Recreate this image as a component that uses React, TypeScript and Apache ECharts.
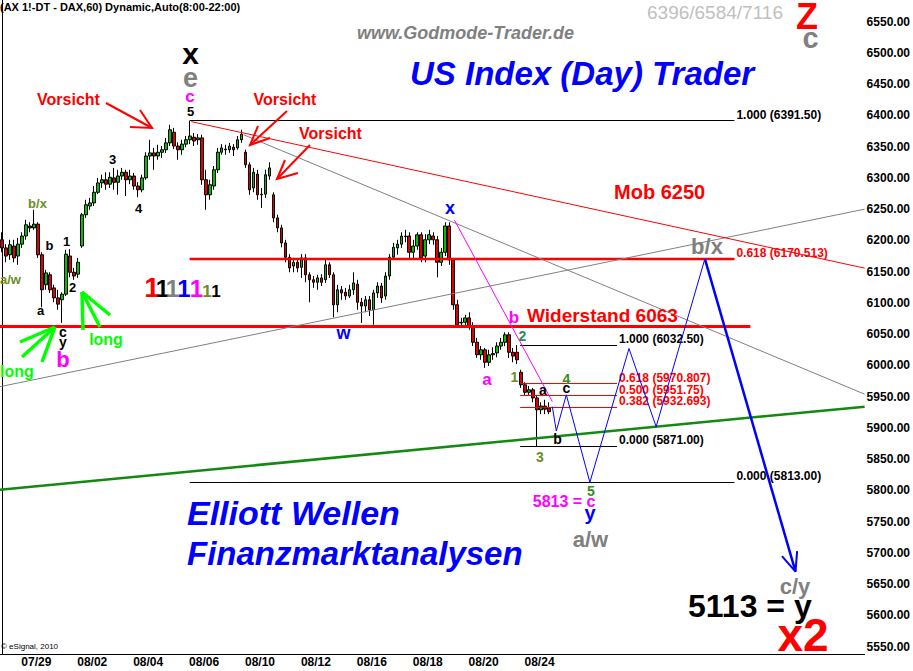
import { useEffect, useRef } from "react";
import * as echarts from "echarts";

const FONT = '"Liberation Sans", Arial, sans-serif';

// ---- axis ticks ----
const DATE_LABELS = ["07/29", "08/02", "08/04", "08/06", "08/10", "08/12", "08/16", "08/18", "08/20", "08/24"];
const DATE_POS = [8.6, 22.6, 36.6, 50.6, 64.6, 78.6, 92.6, 106.6, 120.6, 134.6];
const PRICE_TICKS = [5550, 5600, 5650, 5700, 5750, 5800, 5850, 5900, 5950, 6000, 6050, 6100, 6150, 6200, 6250, 6300, 6350, 6400, 6450, 6500, 6550];
const X_RANGE = [-0.5, 216];
const Y_RANGE = [5538.3, 6584.6];

// ---- hourly candles: open, close, low, high ----
const CANDLES: number[][] = [
  [6201, 6188, 6181, 6213], [6188, 6175, 6165, 6194], [6177, 6193, 6169, 6201], [6191, 6172, 6165, 6201],
  [6175, 6194, 6161, 6204], [6194, 6207, 6188, 6213], [6207, 6225, 6201, 6233], [6223, 6220, 6213, 6229],
  [6220, 6226, 6217, 6249], [6226, 6177, 6172, 6229], [6177, 6121, 6093, 6181], [6129, 6148, 6121, 6153],
  [6145, 6121, 6116, 6149], [6124, 6108, 6101, 6129], [6108, 6098, 6089, 6121], [6105, 6114, 6068, 6117],
  [6114, 6178, 6111, 6185], [6175, 6149, 6141, 6186], [6149, 6143, 6137, 6156], [6146, 6165, 6140, 6172],
  [6191, 6241, 6188, 6244], [6241, 6257, 6236, 6265], [6255, 6260, 6249, 6268], [6260, 6277, 6255, 6287],
  [6277, 6292, 6274, 6300], [6292, 6297, 6284, 6305], [6297, 6290, 6281, 6309], [6290, 6301, 6284, 6309],
  [6300, 6293, 6281, 6316], [6293, 6303, 6273, 6313], [6303, 6309, 6297, 6316], [6309, 6297, 6271, 6313],
  [6297, 6303, 6290, 6313], [6303, 6287, 6281, 6308], [6287, 6281, 6269, 6293], [6281, 6300, 6277, 6305],
  [6300, 6335, 6297, 6341], [6335, 6340, 6329, 6361], [6340, 6335, 6313, 6348], [6335, 6341, 6329, 6353],
  [6341, 6345, 6332, 6351], [6345, 6356, 6340, 6364], [6356, 6377, 6351, 6385], [6373, 6351, 6346, 6380],
  [6351, 6345, 6329, 6357], [6345, 6354, 6337, 6361], [6354, 6361, 6349, 6367], [6361, 6367, 6354, 6391.5],
  [6365, 6359, 6351, 6372], [6361, 6364, 6353, 6370], [6364, 6297, 6289, 6369], [6297, 6273, 6249, 6313],
  [6273, 6289, 6265, 6297], [6287, 6313, 6281, 6319], [6313, 6341, 6308, 6348], [6341, 6348, 6337, 6354],
  [6346, 6345, 6337, 6353], [6345, 6351, 6340, 6356], [6349, 6345, 6335, 6354], [6348, 6361, 6345, 6367],
  [6361, 6370, 6356, 6377], [6341, 6321, 6316, 6345], [6321, 6281, 6273, 6325], [6284, 6309, 6277, 6316],
  [6306, 6273, 6265, 6313], [6273, 6274, 6252, 6284], [6274, 6305, 6268, 6313], [6303, 6316, 6297, 6325],
  [6273, 6236, 6229, 6277], [6236, 6220, 6213, 6241], [6220, 6196, 6189, 6225], [6196, 6173, 6165, 6201],
  [6173, 6156, 6149, 6178], [6159, 6165, 6149, 6172], [6165, 6156, 6149, 6172], [6157, 6172, 6140, 6178],
  [6172, 6145, 6133, 6178], [6145, 6137, 6101, 6149], [6137, 6133, 6124, 6143], [6133, 6140, 6121, 6145],
  [6140, 6133, 6127, 6146], [6137, 6161, 6132, 6169], [6161, 6145, 6140, 6165], [6145, 6097, 6077, 6149],
  [6097, 6121, 6085, 6129], [6121, 6116, 6105, 6127], [6117, 6111, 6105, 6124], [6111, 6121, 6108, 6129],
  [6121, 6132, 6113, 6149], [6130, 6101, 6089, 6137], [6101, 6095, 6068, 6108], [6095, 6105, 6085, 6111],
  [6105, 6089, 6079, 6111], [6089, 6116, 6065, 6121], [6116, 6127, 6108, 6133], [6127, 6108, 6100, 6132],
  [6111, 6143, 6105, 6149], [6143, 6173, 6137, 6178], [6173, 6189, 6169, 6196], [6188, 6194, 6177, 6201],
  [6194, 6207, 6188, 6213], [6207, 6206, 6197, 6217], [6207, 6181, 6172, 6213], [6181, 6191, 6169, 6201],
  [6191, 6209, 6185, 6213], [6209, 6172, 6165, 6213], [6175, 6201, 6165, 6210], [6201, 6209, 6194, 6217],
  [6207, 6201, 6193, 6213], [6201, 6165, 6141, 6207], [6165, 6181, 6159, 6188], [6181, 6223, 6175, 6229],
  [6223, 6169, 6161, 6229], [6169, 6097, 6089, 6172], [6097, 6065, 6060, 6105], [6068, 6069, 6060, 6076],
  [6069, 6076, 6060, 6081], [6076, 6063, 6057, 6085], [6063, 6037, 6031, 6069], [6037, 6017, 6012, 6044],
  [6017, 6025, 6009, 6031], [6025, 6005, 5996, 6028], [6005, 6017, 5999, 6025], [6017, 6019, 6009, 6029],
  [6020, 6031, 6013, 6037], [6031, 6037, 6025, 6044], [6037, 6049, 6031, 6053], [6049, 6021, 6012, 6053],
  [6021, 6015, 6005, 6028], [6021, 6009, 6002, 6032.5], [5989, 5969, 5964, 5993], [5969, 5957, 5951, 5973],
  [5957, 5961, 5951, 5967], [5961, 5948, 5941, 5964], [5948, 5929, 5871, 5951], [5929, 5935, 5922, 5941],
  [5935, 5930, 5922, 5945], [5932, 5926, 5922, 5941],
];
const LAST_PRICE = 5926;

// ---- levels / fibonacci ----
const RESISTANCE = 6063;
const RESISTANCE_SPAN = [-0.5, 187.4];
const FIB1_SPAN = [47, 183.4];
const FIB1_LEVELS = [6391.5, 6170.513, 5813];
const FIB1_LABELS = ["1.000 (6391.50)", "0.618 (6170.513)", "0.000 (5813.00)"];
const FIB2_SPAN = [129.75, 154];
const FIB2_LEVELS = [6032.5, 5970.807, 5951.75, 5932.693, 5871];
const FIB2_LABELS = ["1.000 (6032.50)", "0.618 (5970.807)", "0.500 (5951.75)", "0.382 (5932.693)", "0.000 (5871.00)"];

// ---- trend lines & projection (bar index, price) ----
const TREND_RED = [[47.4, 6390], [216, 6155.6]];
const TREND_GRAY_DOWN = [[60.5, 6369], [216, 5954]];
const TREND_GRAY_UP = [[-0.5, 5966], [216, 6250]];
const TREND_GREEN = [[-0.5, 5801], [216, 5934]];
const MAGENTA_LINE = [[113.25, 6233], [137.8, 5942]];
const PROJ_THIN = [[137.8, 5934], [138.8, 5895], [141.3, 5953], [147.2, 5813], [157, 6027], [163.8, 5902], [176, 6170.5]];
const PROJ_THICK = [[176, 6170.5], [198.7, 5670]];
const PROJ_ARROW = [[195.3, 5695], [198.7, 5670], [199.1, 5703]];

const RED = "#ff0000";
const BLUE = "#0000ff";
const MAG = "#ff00ff";
const GRAY = "#808080";
const OLIVE = "#6b8e23";
const G2 = "#2e8b57";
const G4 = "#3a8a20";
const LIME = "#00ff00";

type TOpt = { italic?: boolean; weight?: string; align?: string };
const T = (text: string, x: number, y: number, color: string, size: number, o: TOpt = {}) => ({
  type: "text",
  x,
  y,
  silent: true,
  z: 100,
  style: {
    text,
    fill: color,
    font: `${o.italic ? "italic " : ""}${o.weight ?? "bold"} ${size}px ${FONT}`,
    align: o.align ?? "center",
    verticalAlign: "middle",
  },
});

const PL = (points: number[][], color: string, width: number) => ({
  type: "polyline",
  silent: true,
  z: 90,
  shape: { points },
  style: { stroke: color, lineWidth: width, fill: null },
});

const lineSeries = (data: number[][], color: string, width: number, z = 5) => ({
  type: "line",
  data,
  symbol: "none",
  showSymbol: false,
  silent: true,
  animation: false,
  z,
  lineStyle: { color, width },
});

export default function App() {
  const ref = useRef<HTMLDivElement>(null);
  useEffect(() => {
    const chart = echarts.init(ref.current!, null, { renderer: "svg" });

    const fibSeg = (span: number[], v: number, label: string, color: string, width: number) => [
      {
        coord: [span[0], v],
        lineStyle: { color, width, type: "solid" },
        label: {
          show: true,
          formatter: label,
          position: "end",
          color: color === RED ? RED : "#000",
          fontWeight: "bold",
          fontSize: 12,
          fontFamily: FONT,
          verticalAlign: "bottom",
          align: "left",
          distance: 2,
        },
      },
      { coord: [span[1], v] },
    ];

    const markData: any[] = [
      [
        { coord: [RESISTANCE_SPAN[0], RESISTANCE], lineStyle: { color: RED, width: 3, type: "solid" }, label: { show: false } },
        { coord: [RESISTANCE_SPAN[1], RESISTANCE] },
      ],
      ...FIB1_LEVELS.map((v, k) => fibSeg(FIB1_SPAN, v, FIB1_LABELS[k], k === 1 ? RED : "#000", k === 1 ? 2.3 : 1)),
      ...FIB2_LEVELS.map((v, k) =>
        fibSeg(FIB2_SPAN, v, FIB2_LABELS[k], k === 0 || k === FIB2_LEVELS.length - 1 ? "#000" : RED, 1)
      ),
      {
        yAxis: LAST_PRICE,
        lineStyle: { opacity: 0 },
        label: {
          show: true,
          position: "end",
          distance: 0,
          formatter: LAST_PRICE.toFixed(2),
          color: "#fff",
          backgroundColor: RED,
          fontWeight: "bold",
          fontSize: 12,
          fontFamily: FONT,
          padding: [1, 2, 1, 1],
          align: "left",
          verticalAlign: "middle",
        },
      },
    ];

    const texts = [
      T("(AX 1!-DT - DAX,60) Dynamic,Auto(8:00-22:00)", 0, 7, "#000", 11, { align: "left" }),
      T("www.Godmode-Trader.de", 465.5, 33, GRAY, 18, { italic: true }),
      T("6396/6584/7116", 647, 12, "#c0c0c0", 19, { align: "left", weight: "normal" }),
      T("Z", 807, 16, RED, 36),
      T("c", 810.5, 38, GRAY, 29),
      T("US Index (Day) Trader", 410, 73, BLUE, 33, { italic: true, align: "left" }),
      T("Elliott Wellen", 187, 513, BLUE, 34, { italic: true, align: "left" }),
      T("Finanzmarktanalysen", 187, 553, BLUE, 33, { italic: true, align: "left" }),
      T("Vorsicht", 68.5, 99, RED, 16),
      T("Vorsicht", 285, 99, RED, 16),
      T("Vorsicht", 330.5, 133.5, RED, 16),
      T("long", 0, 371, LIME, 16, { align: "left" }),
      T("long", 106, 339, LIME, 16),
      T("b/x", 37.5, 203, OLIVE, 13),
      T("a/w", 0, 279, OLIVE, 13, { align: "left" }),
      T("b", 49.5, 245, "#000", 13),
      T("1", 66.5, 241, "#000", 13),
      T("2", 72.5, 287, "#000", 13),
      T("a", 40.5, 310, "#000", 13),
      T("c", 63, 332, "#000", 14),
      T("y", 63, 342, "#000", 14),
      T("b", 63, 359.5, MAG, 22),
      T("3", 112.5, 159.5, "#000", 13),
      T("4", 138.5, 208, "#000", 13),
      T("5", 190.5, 111, "#000", 13),
      T("c", 190, 96, MAG, 17),
      T("e", 190.5, 77.5, GRAY, 27),
      T("x", 190.5, 53, "#000", 30),
      T("1", 152, 287, RED, 28),
      T("1", 162.5, 288.5, "#000", 24),
      T("1", 172.5, 288.5, GRAY, 24),
      T("1", 184, 288.5, BLUE, 24),
      T("1", 196.5, 288.5, MAG, 24),
      T("1", 207, 291, OLIVE, 17),
      T("1", 216, 291, "#000", 17),
      T("w", 343.5, 333, BLUE, 18),
      T("x", 450, 208, BLUE, 18),
      T("b", 514, 317, MAG, 17),
      T("a", 487, 379.5, MAG, 17),
      T("Widerstand 6063", 527, 315, RED, 19, { align: "left" }),
      T("Mob 6250", 614, 192, RED, 20, { align: "left" }),
      T("2", 522.5, 336, G2, 14),
      T("1", 514.5, 377, OLIVE, 14),
      T("4", 566.5, 378.5, G4, 14),
      T("a", 543, 389.5, "#000", 14),
      T("c", 566.5, 387.5, "#000", 14),
      T("b", 557.5, 438.5, "#000", 14),
      T("3", 540, 457, OLIVE, 14),
      T("5", 591, 491, G4, 14),
      T("5813 = c", 595.5, 501, MAG, 16, { align: "right" }),
      T("y", 590, 512.5, BLUE, 20),
      T("a/w", 590.5, 539, GRAY, 22),
      T("b/x", 707, 246, GRAY, 22),
      T("c/y", 795, 586, GRAY, 22),
      T("5113 = y", 688, 605.5, "#000", 32, { align: "left" }),
      T("x2", 803, 634.5, RED, 46),
      T("\u00a9 eSignal, 2010", 1, 646, "#000", 8, { align: "left", weight: "normal" }),
    ];

    const arrows = [
      PL([[106, 103], [152, 128]], RED, 2),
      PL([[130, 127], [152, 128], [140, 110]], RED, 2),
      PL([[287, 111], [250, 145]], RED, 2),
      PL([[258, 126], [250, 145], [270, 138]], RED, 2),
      PL([[310, 145], [277, 179]], RED, 2),
      PL([[285, 160], [277, 179], [298, 173]], RED, 2),
      PL([[20, 342], [55, 327]], LIME, 3.5),
      PL([[22, 357], [55, 327]], LIME, 3.5),
      PL([[42, 362], [55, 327]], LIME, 3.5),
      PL([[83, 330], [82, 292]], LIME, 3.5),
      PL([[100, 327], [82, 292]], LIME, 3.5),
      PL([[110, 315], [82, 292]], LIME, 3.5),
    ];

    chart.setOption({
      animation: false,
      backgroundColor: "#ffffff",
      grid: { left: 0, right: 47, top: 0, bottom: 17, containLabel: false },
      xAxis: {
        type: "value",
        min: X_RANGE[0],
        max: X_RANGE[1],
        splitLine: { show: false },
        axisTick: { show: false },
        axisLine: { show: true, onZero: false, lineStyle: { color: "#000", width: 1 } },
        axisLabel: {
          customValues: DATE_POS,
          color: "#000",
          fontWeight: "bold",
          fontSize: 12,
          fontFamily: FONT,
          margin: 2,
          formatter: (v: number) => {
            let best = 0;
            DATE_POS.forEach((p, k) => {
              if (Math.abs(p - v) < Math.abs(DATE_POS[best] - v)) best = k;
            });
            return DATE_LABELS[best];
          },
        },
      },
      yAxis: {
        type: "value",
        position: "right",
        min: Y_RANGE[0],
        max: Y_RANGE[1],
        splitLine: { show: false },
        axisTick: { show: false },
        axisLine: { show: true, lineStyle: { color: "#000", width: 1 } },
        axisLabel: {
          customValues: PRICE_TICKS,
          color: "#000",
          fontWeight: "bold",
          fontSize: 12,
          fontFamily: FONT,
          margin: 2,
          formatter: (v: number) => v.toFixed(2),
        },
      },
      series: [
        {
          type: "candlestick",
          data: CANDLES.map((c, i) => [i, c[0], c[1], c[2], c[3]]),
          encode: { x: 0, y: [1, 2, 3, 4] },
          barWidth: 3.2,
          z: 2,
          silent: true,
          itemStyle: {
            color: "#00c000",
            color0: "#e00000",
            borderColor: "#000",
            borderColor0: "#000",
            borderWidth: 1,
          },
          markLine: {
            silent: true,
            symbol: ["none", "none"],
            animation: false,
            data: markData,
          },
        },
        lineSeries(TREND_GRAY_UP, GRAY, 1),
        lineSeries(TREND_GRAY_DOWN, GRAY, 1),
        lineSeries(TREND_RED, RED, 1),
        lineSeries(TREND_GREEN, "#128a12", 2.5),
        lineSeries(MAGENTA_LINE, MAG, 1),
        lineSeries(PROJ_THIN, BLUE, 1),
        lineSeries(PROJ_THICK, BLUE, 2.5),
        lineSeries(PROJ_ARROW, BLUE, 2),
      ],
      graphic: { elements: [...arrows, ...texts] },
    });
    return () => chart.dispose();
  }, []);
  return (
    <div
      ref={ref}
      style={{ position: "absolute", left: 0, top: 0, width: 913, height: 671, background: "#fff" }}
    />
  );
}
